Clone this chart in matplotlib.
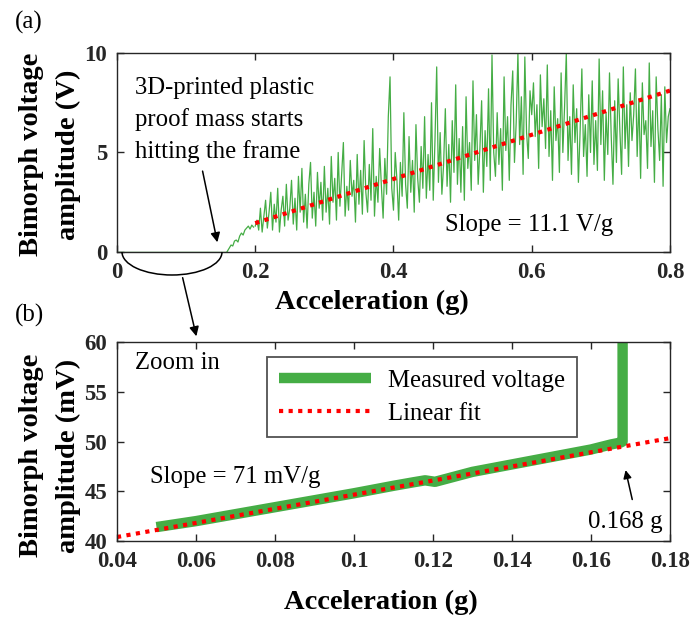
import numpy as np
import matplotlib.pyplot as plt
from matplotlib.patches import Arc

plt.rcParams["font.family"] = ["Liberation Serif", "DejaVu Serif"]

# -----------------------------
# DATA
# -----------------------------
# panel (a): flat part, then the rise where the mass starts hitting the frame
flat_x = [0.0, 0.159]
flat_v = [0.0, 0.0]

rise_x = [0.159, 0.1625, 0.165, 0.1675, 0.17, 0.1725, 0.175, 0.1775,
          0.18, 0.1825, 0.185, 0.1875, 0.19, 0.1925, 0.195, 0.1975]
rise_v = [0.0, 0.2, 0.35, 0.3, 0.55, 0.6, 0.5, 0.8,
          0.95, 0.85, 1.1, 1.2, 1.3, 1.15, 1.35, 1.25]

# noisy part, 0.2 .. 0.8 g, one value every 0.0025 g
noisy_v = [
    1.3, 1.6, 1.1, 2.2, 1.0, 1.8, 2.6, 1.2, 2.0, 3.0, 1.1, 2.4, 1.5, 3.2, 1.0, 2.1, 2.8, 1.3, 3.4, 1.6,
    2.2, 3.6, 1.4, 2.7, 1.1, 3.8, 2.0, 4.2, 1.5, 2.9, 1.2, 3.4, 4.5, 1.7, 3.0, 1.3, 4.0, 2.2, 3.5, 1.6,
    4.3, 2.0, 3.2, 1.4, 4.8, 2.5, 3.7, 1.6, 5.0, 2.3, 3.9, 5.5, 1.8, 3.3, 2.1, 4.6, 2.8, 3.6, 1.5, 4.9,
    2.4, 4.1, 1.9, 5.6, 3.0, 2.0, 4.4, 2.6, 6.2, 1.8, 3.8, 2.5, 5.2, 3.3, 1.7, 4.7, 2.9, 6.8, 8.8, 3.2,
    2.1, 5.0, 3.6, 1.6, 4.5, 2.8, 7.0, 3.4, 2.2, 5.8, 3.0, 4.6, 2.0, 6.4, 3.7, 2.5, 5.3, 3.2, 6.8, 2.7,
    4.9, 3.1, 7.5, 2.6, 5.6, 9.3, 3.5, 6.0, 2.9, 4.4, 7.2, 3.3, 5.4, 2.5, 6.6, 4.0, 8.4, 3.4, 5.7, 3.0,
    6.3, 2.6, 7.8, 4.2, 5.5, 3.1, 8.6, 4.6, 6.9, 3.4, 5.2, 7.6, 3.0, 6.1, 4.3, 8.2, 3.6, 9.9, 5.0, 3.8,
    7.0, 4.4, 6.2, 3.1, 8.8, 5.1, 6.8, 3.6, 7.4, 9.1, 4.5, 6.5, 10.0, 5.4, 7.8, 3.9, 9.8, 6.0, 4.7, 8.1,
    6.9, 8.5, 5.8, 7.4, 4.2, 8.9, 6.3, 7.7, 5.2, 9.4, 4.8, 7.1, 3.6, 8.3, 5.6, 6.7, 4.0, 9.0, 5.0, 7.3,
    10.0, 4.6, 6.8, 3.9, 8.4, 5.5, 7.2, 3.5, 6.1, 9.2, 4.8, 6.4, 3.8, 7.9, 5.0, 8.6, 4.4, 6.6, 4.1, 9.7,
    5.4, 8.1, 3.6, 7.0, 4.9, 9.0, 5.8, 3.4, 7.6, 4.5, 8.7, 6.1, 3.9, 9.3, 5.2, 7.4, 4.3, 8.0, 5.6, 6.9,
    9.2, 4.8, 7.7, 3.7, 8.5, 5.9, 6.6, 4.2, 9.5, 5.3, 7.1, 3.5, 8.8, 6.2, 4.6, 7.9, 3.3, 8.3, 5.5, 6.8,
    7.2,
]
noisy_x = np.linspace(0.2, 0.8, len(noisy_v))

fit_a_x = [0.2, 0.8]
fit_a_v = [1.45, 8.11]

# panel (b): zoom on the low-acceleration part (mV)
meas_x = [0.050, 0.060, 0.070, 0.080, 0.090, 0.100, 0.110, 0.115,
          0.118, 0.1205, 0.130, 0.140, 0.150, 0.160, 0.165, 0.1675,
          0.168, 0.168]
meas_v = [41.4, 42.0, 42.7, 43.4, 44.1, 44.8, 45.55, 45.9,
          46.1, 45.95, 46.95, 47.7, 48.45, 49.2, 49.7, 49.9,
          50.0, 62.0]

fit_b_x = [0.04, 0.18]
fit_b_v = [40.4, 50.34]

xticks_a = [0, 0.2, 0.4, 0.6, 0.8]
xticklabels_a = ["0", "0.2", "0.4", "0.6", "0.8"]
yticks_a = [0, 5, 10]
xticks_b = [0.04, 0.06, 0.08, 0.10, 0.12, 0.14, 0.16, 0.18]
xticklabels_b = ["0.04", "0.06", "0.08", "0.1", "0.12", "0.14", "0.16", "0.18"]
yticks_b = [40, 45, 50, 55, 60]

GREEN = "#45ad45"
RED = "#ff0000"
DARK = "#262626"
TXT = 17.8
LAB = 20.5


def style_axes(ax):
    for s in ax.spines.values():
        s.set_color(DARK)
        s.set_linewidth(1.0)
    ax.tick_params(direction="in", top=True, right=True, length=5,
                   width=1.0, color=DARK, labelcolor=DARK, labelsize=16.5, pad=7)
    for lab in ax.get_xticklabels() + ax.get_yticklabels():
        lab.set_fontweight("bold")


fig = plt.figure(figsize=(6.91, 6.22), dpi=100)

# -----------------------------
# (a) full range
# -----------------------------
ax1 = fig.add_axes([0.1693, 0.5949, 0.8003, 0.3199])
ax1.plot(flat_x, flat_v, color=GREEN, lw=1.0)
ax1.plot(rise_x, rise_v, color=GREEN, lw=0.9)
ax1.plot(noisy_x, noisy_v, color=GREEN, lw=0.9)
ax1.plot(fit_a_x, fit_a_v, color=RED, lw=3.0, ls=(0, (1, 1.3)))
ax1.set_xlim(0, 0.8)
ax1.set_ylim(0, 10)
ax1.set_xticks(xticks_a)
ax1.set_xticklabels(xticklabels_a)
ax1.set_yticks(yticks_a)
style_axes(ax1)
ax1.set_xlabel("Acceleration (g)", fontsize=LAB, fontweight="bold")
ax1.xaxis.set_label_coords(0.461, -0.255)
ax1.xaxis.label.set_va("center")
ax1.set_ylabel("Bimorph voltage\namplitude (V)", fontsize=LAB, fontweight="bold",
               linespacing=1.6)
ax1.yaxis.set_label_coords(-0.121, 0.49)
ax1.yaxis.label.set_va("center")

ax1.text(0.026, 6.63, "3D-printed plastic\nproof mass starts\nhitting the frame",
         fontsize=TXT, va="center", ha="left", linespacing=1.5)
ax1.annotate("", xy=(0.146, 0.35), xytext=(0.123, 4.2),
             arrowprops=dict(arrowstyle="-|>", color="black", lw=1.1,
                             mutation_scale=14))
ax1.text(0.4745, 1.36, "Slope = 11.1 V/g", fontsize=TXT, va="center", ha="left")

# -----------------------------
# (b) zoom in
# -----------------------------
ax2 = fig.add_axes([0.1693, 0.1302, 0.8003, 0.3199])
ax2.plot(meas_x, meas_v, color=GREEN, lw=7.5, solid_capstyle="butt",
         solid_joinstyle="round", label="Measured voltage")
ax2.plot(fit_b_x, fit_b_v, color=RED, lw=3.0, ls=(0, (1, 1.3)),
         label="Linear fit")
ax2.set_xlim(0.04, 0.18)
ax2.set_ylim(40, 60)
ax2.set_xticks(xticks_b)
ax2.set_xticklabels(xticklabels_b)
ax2.set_yticks(yticks_b)
style_axes(ax2)
ax2.set_xlabel("Acceleration (g)", fontsize=LAB, fontweight="bold")
ax2.xaxis.set_label_coords(0.477, -0.31)
ax2.xaxis.label.set_va("center")
ax2.set_ylabel("Bimorph voltage\namplitude (mV)", fontsize=LAB, fontweight="bold",
               linespacing=1.6)
ax2.yaxis.set_label_coords(-0.121, 0.43)
ax2.yaxis.label.set_va("center")

leg = ax2.legend(loc="upper left", bbox_to_anchor=(0.271, 0.925), fontsize=TXT,
                 frameon=True, fancybox=False, handlelength=3.7,
                 handletextpad=0.7, borderpad=0.5, labelspacing=0.45,
                 borderaxespad=0)
leg.get_frame().set_edgecolor(DARK)
leg.get_frame().set_linewidth(1.3)

ax2.text(0.0446, 57.9, "Zoom in", fontsize=TXT, va="center", ha="left")
ax2.text(0.0484, 46.4, "Slope = 71 mV/g", fontsize=TXT, va="center", ha="left")
ax2.text(0.1592, 41.9, "0.168 g", fontsize=TXT, va="center", ha="left")
ax2.annotate("", xy=(0.1686, 47.4), xytext=(0.1706, 43.9),
             arrowprops=dict(arrowstyle="-|>", color="black", lw=1.1,
                             mutation_scale=12))

# -----------------------------
# bracket + arrow linking (a) to (b), in figure pixels
# -----------------------------
over = fig.add_axes([0, 0, 1, 1], facecolor="none")
over.set_xlim(0, 691)
over.set_ylim(622, 0)
over.axis("off")
over.add_patch(Arc((172, 252), 100, 46, theta1=0, theta2=180,
                   color="black", lw=1.1))
over.annotate("", xy=(197, 339), xytext=(182, 275),
              arrowprops=dict(arrowstyle="-|>", color="black", lw=1.1,
                              mutation_scale=14))

fig.text(15 / 691, 1 - 22 / 622, "(a)", fontsize=18, va="center", ha="left")
fig.text(15 / 691, 1 - 315 / 622, "(b)", fontsize=18, va="center", ha="left")

fig.savefig("out.png", dpi=100)
